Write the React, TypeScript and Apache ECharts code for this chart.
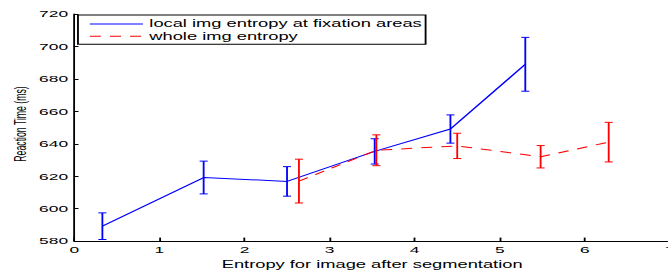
import React, { useEffect, useRef } from "react";
import * as echarts from "echarts";

// Data
const localX = [0.33, 1.52, 2.5, 3.53, 4.42, 5.3];
const localY = [589.2, 619.2, 616.8, 635.3, 649.1, 689.0];
const localErr = [8.2, 10.1, 9.1, 7.8, 8.7, 16.6];

const wholeX = [2.64, 3.55, 4.5, 5.48, 6.28];
const wholeY = [617.0, 636.0, 638.7, 632.0, 641.0];
const wholeErr = [13.5, 9.5, 7.8, 6.9, 12.2];

const seriesNames = ["local img entropy at fixation areas", "whole img entropy"];
const xTitle = "Entropy for image after segmentation";
const yTitle = "Reaction Time (ms)";

const STRETCH = 1.83;
const FONT = "'Liberation Sans', Arial, Helvetica, sans-serif";
const BLUE = "#0000ff";
const RED = "#ff0000";

function errorSeries(name: string, xs: number[], ys: number[], errs: number[], color: string) {
  return {
    type: "custom",
    name,
    silent: true,
    z: 3,
    encode: { x: 0, y: [1, 2] },
    data: xs.map((x, i) => [x, ys[i] - errs[i], ys[i] + errs[i]]),
    renderItem: (params: any, api: any) => {
      const x = api.value(0);
      const lo = api.coord([x, api.value(1)]);
      const hi = api.coord([x, api.value(2)]);
      const hw = 2.2;
      const st = { stroke: color, lineWidth: 1 };
      return {
        type: "group",
        children: [
          { type: "line", shape: { x1: lo[0], y1: lo[1], x2: hi[0], y2: hi[1] }, style: st },
          { type: "line", shape: { x1: lo[0] - hw, y1: lo[1], x2: lo[0] + hw, y2: lo[1] }, style: st },
          { type: "line", shape: { x1: hi[0] - hw, y1: hi[1], x2: hi[0] + hw, y2: hi[1] }, style: st },
        ],
      };
    },
  };
}

export default function App() {
  const ref = useRef<HTMLDivElement>(null);
  useEffect(() => {
    if (!ref.current) return;
    const chart = echarts.init(ref.current, null, { renderer: "svg" });
    chart.setOption({
      animation: false,
      backgroundColor: "#fff",
      textStyle: { fontFamily: FONT },
      grid: { left: 40.6, top: 14, width: 325.5, height: 233.7, containLabel: false },
      legend: {
        data: seriesNames,
        orient: "vertical",
        left: 42.6,
        top: 15,
        padding: [4, 2, 3, 6],
        itemGap: 2.3,
        itemWidth: 29,
        itemHeight: 10,
        borderColor: "#000",
        borderWidth: 1,
        backgroundColor: "#fff",
        itemStyle: { opacity: 0 },
        lineStyle: { width: 1 },
        textStyle: { fontFamily: FONT, fontSize: 10, color: "#000", padding: [0, 0, 0, -1.5] },
      },
      xAxis: {
        type: "value",
        min: 0,
        max: 7,
        interval: 1,
        name: xTitle,
        nameLocation: "middle",
        nameGap: 14,
        nameTextStyle: { fontFamily: FONT, fontSize: 10, color: "#000" },
        axisLine: { show: true, lineStyle: { color: "#000", width: 1 } },
        axisTick: { show: true, inside: true, length: 3.5, lineStyle: { color: "#000" } },
        axisLabel: { fontFamily: FONT, fontSize: 9.5, color: "#000", margin: 4 },
        splitLine: { show: false },
      },
      yAxis: {
        type: "value",
        min: 580,
        max: 720,
        interval: 20,
        axisLine: { show: true, lineStyle: { color: "#000", width: 1 } },
        axisTick: { show: true, inside: true, length: 2.3, lineStyle: { color: "#000" } },
        axisLabel: { fontFamily: FONT, fontSize: 9.5, color: "#000", margin: 3.4 },
        splitLine: { show: false },
      },
      graphic: [
        {
          type: "text",
          x: 11.4,
          y: 124,
          rotation: Math.PI / 2,
          style: {
            text: yTitle,
            fontFamily: FONT,
            fontSize: 8.7,
            fill: "#000",
            align: "center",
            verticalAlign: "middle",
          },
        },
      ],
      series: [
        {
          type: "line",
          name: seriesNames[0],
          data: localX.map((x, i) => [x, localY[i]]),
          symbol: "none",
          color: BLUE,
          lineStyle: { color: BLUE, width: 1 },
          z: 2,
        },
        {
          type: "line",
          name: seriesNames[1],
          data: wholeX.map((x, i) => [x, wholeY[i]]),
          symbol: "none",
          color: RED,
          lineStyle: { color: RED, width: 1, type: [6, 5] },
          z: 2,
        },
        errorSeries("local err", localX, localY, localErr, BLUE),
        errorSeries("whole err", wholeX, wholeY, wholeErr, RED),
      ],
    });
    return () => chart.dispose();
  }, []);
  return (
    <div
      style={{
        position: "fixed",
        left: 0,
        top: 0,
        width: 668,
        height: 275,
        overflow: "hidden",
        background: "#fff",
      }}
    >
      <div
        ref={ref}
        style={{ width: 380, height: 275, transform: `scaleX(${STRETCH})`, transformOrigin: "0 0" }}
      />
    </div>
  );
}
